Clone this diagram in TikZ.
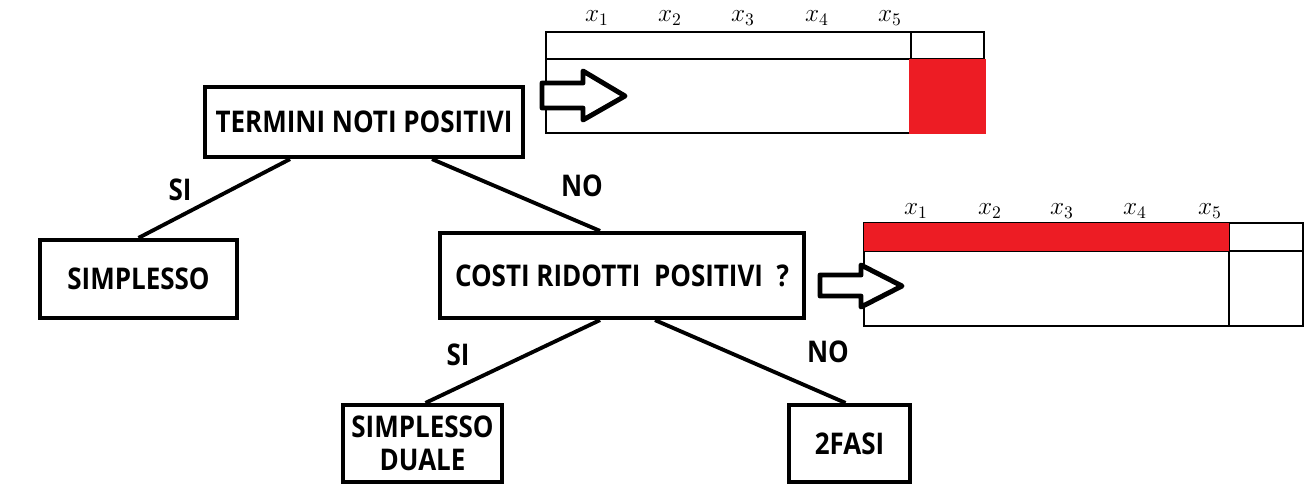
\documentclass[tikz,border=0pt]{standalone}
\usepackage{fontspec}
\newfontfamily\paintfont{Open Sans}[FakeStretch=0.87]
\usetikzlibrary{calc}
\definecolor{paintred}{HTML}{ED1C24}

\begin{document}
\begin{tikzpicture}[x=0.02cm, y=-0.02cm,
  box/.style={draw, line width=2.4pt, inner sep=0pt, align=center,
    font=\paintfont\bfseries\fontsize{17}{19}\selectfont},
  lbl/.style={inner sep=0pt, font=\paintfont\bfseries\fontsize{17}{19}\selectfont},
  link/.style={line width=2.2pt},
  tab/.style={line width=1.1pt},
  fatarrow/.style={draw, fill=white, line width=2.8pt, line join=round},
  var/.style={inner sep=0pt, font=\Large}]
  \useasboundingbox (0,0) rectangle (1310,495);

  \node[box, minimum width=6.36cm, minimum height=1.4cm] (tnp) at (364,122) {TERMINI NOTI POSITIVI};
  \node[box, minimum width=3.94cm, minimum height=1.56cm] (simp) at (138.5,279) {SIMPLESSO};
  \node[box, minimum width=7.28cm, minimum height=1.7cm] (crp) at (622,275.5) {COSTI RIDOTTI\ \ POSITIVI\ \ ?};
  \node[box, minimum width=3.18cm, minimum height=1.54cm] (sd) at (422.5,443.5) {SIMPLESSO\\DUALE};
  \node[box, minimum width=2.42cm, minimum height=1.54cm] (fasi) at (849.5,443.5) {2FASI};

  \draw[link] ($(tnp.south)+(-74,0)$) -- (simp.north);
  \draw[link] ($(tnp.south)+(68,0)$) -- ($(crp.north)+(-22,0)$);
  \draw[link] ($(crp.south)+(-22,0)$) -- ($(sd.north)+(3,0)$);
  \draw[link] ($(crp.south)+(33,0)$) -- ($(fasi.north)+(-4,0)$);

  \node[lbl] (si1) at (180,190) {SI};
  \node[lbl] (no1) at (582,186) {NO};
  \node[lbl] (si2) at (458,355) {SI};
  \node[lbl] (no2) at (828,352) {NO};

  % tableau 1
  \draw[tab] (546,32) rectangle (984,133);
  \draw[tab] (546,59) -- (984,59);
  \draw[tab] (911,32) -- (911,59);
  \fill[paintred] (909,59) rectangle (986,134);
  \foreach \i/\x in {1/597,2/670,3/743,4/817,5/890}
    \node[var] (a\i) at (\x,18) {$x_\i$};
  \draw[fatarrow] (542,83) -- (583,83) -- (583,71) -- (625,96) -- (583,120) -- (583,108) -- (542,108) -- cycle;

  % tableau 2
  \draw[tab] (864,223) rectangle (1303,326);
  \draw[tab] (864,251) -- (1303,251);
  \draw[tab] (1229,223) -- (1229,326);
  \fill[paintred] (864,223) rectangle (1229,251);
  \foreach \i/\x in {1/916,2/990,3/1062,4/1135,5/1210}
    \node[var] (b\i) at (\x,211) {$x_\i$};
  \draw[fatarrow] (820,275) -- (861,275) -- (861,265) -- (902,286) -- (861,307) -- (861,296) -- (820,296) -- cycle;
\end{tikzpicture}
\end{document}
